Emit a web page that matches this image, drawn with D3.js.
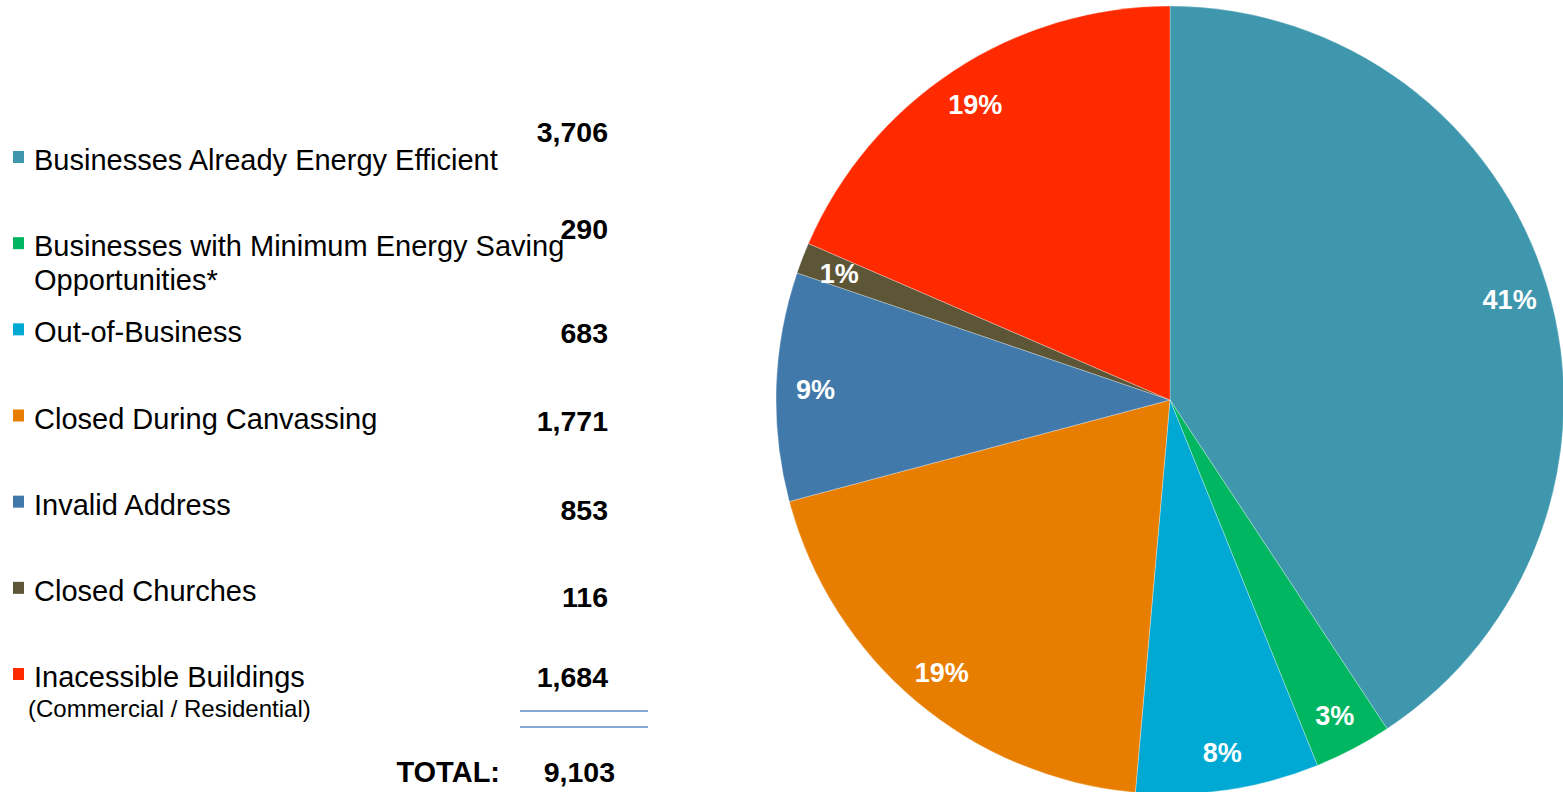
<!DOCTYPE html>
<html>
<head>
<meta charset="utf-8">
<script src="https://cdn.jsdelivr.net/npm/d3@7"></script>
<style>
  html, body { margin: 0; padding: 0; background: #fff; }
  svg { display: block; font-family: "Liberation Sans", Arial, sans-serif; }
</style>
</head>
<body>
<svg id="chart" width="1563" height="792"></svg>
<script>
// ---------------- Data ----------------
const categories = [
  "Businesses Already Energy Efficient",
  "Businesses with Minimum Energy Saving",
  "Out-of-Business",
  "Closed During Canvassing",
  "Invalid Address",
  "Closed Churches",
  "Inacessible Buildings"
];
const subLabels = ["", "Opportunities*", "", "", "", "", "(Commercial / Residential)"];
const values = [3706, 290, 683, 1771, 853, 116, 1684];
const pctLabels = ["41%", "3%", "8%", "19%", "9%", "1%", "19%"];
const colors = ["#3e97ad", "#00b661", "#00a9d4", "#e87e00", "#4179aa", "#5c5637", "#ff2a00"];
const totalLabel = "TOTAL:";

const svg = d3.select("#chart");
const fmt = d3.format(",");

// ---------------- Pie ----------------
const cx = 1170, cy = 400, R = 394;
const pie = d3.pie().sort(null).value(d => d)(values);
const arc = d3.arc().innerRadius(0).outerRadius(R);
const labelArc = d3.arc().innerRadius(R * 0.9).outerRadius(R * 0.9);

const g = svg.append("g").attr("transform", `translate(${cx},${cy})`);
g.selectAll("path")
  .data(pie)
  .enter()
  .append("path")
  .attr("d", arc)
  .attr("fill", (d, i) => colors[i])
  .attr("stroke", "#ffffff")
  .attr("stroke-opacity", 0.5)
  .attr("stroke-width", 0.6);

g.selectAll("text")
  .data(pie)
  .enter()
  .append("text")
  .attr("transform", d => `translate(${labelArc.centroid(d)})`)
  .attr("text-anchor", "middle")
  .attr("dy", "0.4em")
  .attr("fill", "#fff")
  .attr("font-weight", "bold")
  .attr("font-size", 27)
  .text((d, i) => pctLabels[i]);

// ---------------- Legend / table ----------------
const rowY = d3.scalePoint().domain(d3.range(categories.length)).range([170, 687]);
const valueDy = [-28, -17, 1, 2, 5, 6, 0];   // values sit a bit off the rows

const rows = svg.append("g")
  .selectAll("g")
  .data(categories)
  .enter()
  .append("g");

rows.append("rect")
  .attr("x", 13)
  .attr("y", (d, i) => rowY(i) - 19)
  .attr("width", 11)
  .attr("height", 12)
  .attr("fill", (d, i) => colors[i]);

rows.append("text")
  .attr("x", 34)
  .attr("y", (d, i) => rowY(i))
  .attr("font-size", 29)
  .attr("fill", "#000")
  .text(d => d);

rows.filter((d, i) => i === 1)
  .append("text")
  .attr("x", 34)
  .attr("y", rowY(1) + 34)
  .attr("font-size", 29)
  .text(subLabels[1]);

rows.filter((d, i) => i === 6)
  .append("text")
  .attr("x", 28)
  .attr("y", rowY(6) + 30)
  .attr("font-size", 24)
  .text(subLabels[6]);

rows.append("text")
  .attr("x", 608)
  .attr("y", (d, i) => rowY(i) + valueDy[i])
  .attr("text-anchor", "end")
  .attr("font-size", 28.5)
  .attr("font-weight", "bold")
  .text((d, i) => fmt(values[i]));

// double underline
svg.append("g")
  .selectAll("line")
  .data([711, 727])
  .enter()
  .append("line")
  .attr("x1", 520).attr("x2", 648)
  .attr("y1", d => d).attr("y2", d => d)
  .attr("stroke", "#5b8cc4")
  .attr("stroke-width", 1.5);

svg.append("text")
  .attr("x", 500).attr("y", 782)
  .attr("text-anchor", "end")
  .attr("font-size", 29).attr("font-weight", "bold")
  .text(totalLabel);

svg.append("text")
  .attr("x", 615).attr("y", 782)
  .attr("text-anchor", "end")
  .attr("font-size", 28.5).attr("font-weight", "bold")
  .text(fmt(d3.sum(values)));
</script>
</body>
</html>
